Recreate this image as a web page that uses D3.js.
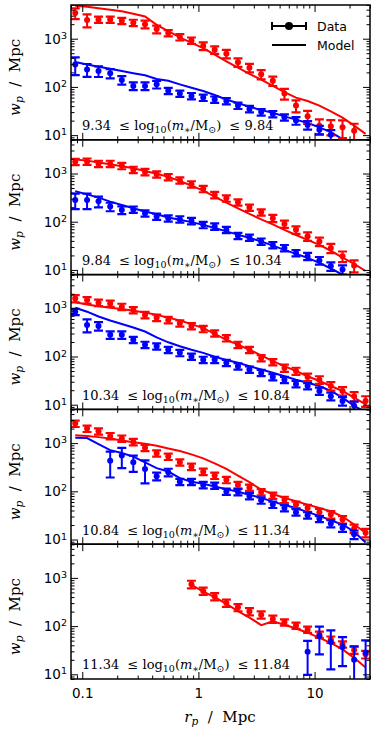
<!DOCTYPE html>
<html>
<head>
<meta charset="utf-8">
<script src="https://cdn.jsdelivr.net/npm/d3@7"></script>
<style>
  body { margin: 0; background: #fff; }
  svg { display: block; }
  .tick text { font-family: "DejaVu Sans", sans-serif; font-size: 13.5px; fill: #000; }
  .math { font-family: "DejaVu Serif", "Liberation Serif", serif; fill: #000; }
  .legend { font-family: "DejaVu Sans", sans-serif; font-size: 12.5px; fill: #000; }
</style>
</head>
<body>
<div class="chart"></div>
<script>
// projected separation bins (Mpc)
var rp = [0.087, 0.110, 0.138, 0.174, 0.219, 0.275, 0.347, 0.437, 0.550, 0.692, 0.871, 1.10, 1.38,
          1.74, 2.19, 2.75, 3.47, 4.37, 5.50, 6.92, 8.71, 11.0, 13.8, 17.4, 21.9, 27.5];

// stellar mass bins
var massLabels = [["9.34", "9.84"], ["9.84", "10.34"], ["10.34", "10.84"], ["10.84", "11.34"], ["11.34", "11.84"]];

// panel 1
var red1 = [3400, 2450, 2500, 2500, 2350, 2150, 2000, 1580, 1310, 1080, 920, 710, 590, 490, 325, 250, 183, 134, 73, 41, 24.5, 15.7, 15.2, 14.5, 12.3, null];
var redErr1 = [0.25, 0.3, 0.15, 0.15, 0.15, 0.15, 0.18, 0.18, 0.15, 0.15, 0.15, 0.18, 0.18, 0.2, 0.2, 0.2, 0.22, 0.22, 0.25, 0.28, 0.3, 0.35, 0.35, 0.4, 0.4, null];
var blue1 = [292, 230, 214, 192, 139, 105, 105, 113, 83, 73, 65, 60, 55, 51, 41, 35, 30, 27.5, 23.5, 20, 16.3, 13, 10.2, null, null, null];
var blueErr1 = [0.4, 0.3, 0.25, 0.22, 0.2, 0.18, 0.18, 0.18, 0.15, 0.15, 0.15, 0.15, 0.15, 0.15, 0.15, 0.15, 0.15, 0.15, 0.15, 0.18, 0.2, 0.2, 0.25, null, null, null];
var redModel1 = [4800, 4600, 4300, 4000, 3700, 3300, 2900, 1940, 1430, 1070, 820, 640, 470, 340, 250, 187, 141, 105, 78, 60, 51, 41, 31, 23, 15.7, 10.6];
var blueModel1 = [330, 292, 263, 237, 214, 192, 174, 146, 134, 113, 96, 82, 68, 55, 46, 39, 33, 29, 24.5, 21, 17.8, 14.5, 11.5, 8.3, 6, null];

// panel 2
var red2 = [1750, 1780, 1600, 1600, 1440, 1200, 1080, 965, 850, 725, 600, 480, 360, 305, 253, 197, 157, 118, 90, 68, 50, 39, 28.5, 19.3, 12.3, null];
var redErr2 = [0.15, 0.15, 0.15, 0.15, 0.15, 0.15, 0.15, 0.15, 0.15, 0.15, 0.15, 0.15, 0.15, 0.15, 0.15, 0.15, 0.15, 0.17, 0.17, 0.18, 0.2, 0.2, 0.22, 0.25, 0.28, null];
var blue2 = [282, 282, 265, 206, 176, 180, 150, 128, 118, 113, 104, 86, 80, 68, 51, 47, 39, 33, 28.6, 22.5, 19.3, 15.7, 12, 10.2, null, null];
var blueErr2 = [0.35, 0.35, 0.25, 0.2, 0.18, 0.15, 0.15, 0.15, 0.15, 0.15, 0.15, 0.15, 0.15, 0.15, 0.15, 0.15, 0.15, 0.15, 0.15, 0.15, 0.17, 0.18, 0.2, 0.22, null, null];
var redModel2 = [1950, 1850, 1700, 1560, 1420, 1280, 1130, 990, 850, 700, 560, 440, 330, 250, 190, 145, 112, 88, 68, 53, 42, 33, 25, 18, 13.4, 9.5];
var blueModel2 = [430, 369, 316, 261, 222, 190, 163, 143, 122, 110, 98, 86, 74, 63, 54, 46, 39, 32, 26, 21.5, 17.8, 14, 10.7, 8, 6, null];

// panel 3
var red3 = [1600, 1480, 1310, 1260, 1080, 920, 730, 640, 575, 490, 430, 375, 305, 241, 176, 138, 93, 77, 58, 50, 37.5, 33, 24.5, 19.3, 15, 12];
var redErr3 = [0.17, 0.15, 0.15, 0.15, 0.15, 0.15, 0.15, 0.15, 0.15, 0.15, 0.15, 0.15, 0.15, 0.15, 0.15, 0.15, 0.15, 0.15, 0.17, 0.17, 0.18, 0.18, 0.2, 0.2, 0.22, 0.25];
var blue3 = [850, 453, 430, 282, 282, 222, 176, 163, 138, 119, 100, 86, 86, 74, 63, 54, 46, 37.5, 33, 27, 24.5, 19.3, 15, 12, 9.5, null];
var blueErr3 = [0.15, 0.3, 0.2, 0.18, 0.18, 0.15, 0.15, 0.15, 0.15, 0.15, 0.15, 0.15, 0.15, 0.15, 0.15, 0.15, 0.15, 0.15, 0.15, 0.15, 0.15, 0.17, 0.18, 0.2, 0.22, null];
var redModel3 = [1330, 1200, 1100, 1030, 965, 890, 815, 730, 640, 557, 470, 387, 296, 222, 176, 138, 106, 80, 63, 50, 39, 31, 24.5, 19.3, 14, 10.2];
var blueModel3 = [1030, 850, 675, 557, 474, 400, 330, 249, 197, 163, 138, 119, 99, 85, 74, 63, 54, 46, 39, 33, 28.6, 24.5, 19.3, 14, 9.5, 7];

// panel 4
var red4 = [2540, 2000, 1760, 1410, 1250, 1060, 800, 615, 525, 400, 325, 256, 212, 173, 136, 120, 97, 82, 67, 53, 45, 37, 33, 26, 17, 13.8];
var redErr4 = [0.15, 0.15, 0.15, 0.15, 0.15, 0.15, 0.15, 0.15, 0.15, 0.15, 0.15, 0.15, 0.15, 0.15, 0.15, 0.15, 0.15, 0.15, 0.15, 0.15, 0.17, 0.17, 0.18, 0.18, 0.2, 0.2];
var blue4 = [null, null, null, 430, 550, 400, 292, 206, 249, 158, 158, 136, 132, 99, 97, 80, 65, 53, 45, 37, 32, 27, 21.5, 17.5, 12.8, null];
var blueErr4 = [null, null, null, 0.55, 0.45, 0.37, 0.5, 0.18, 0.18, 0.15, 0.15, 0.15, 0.15, 0.15, 0.15, 0.15, 0.15, 0.15, 0.15, 0.15, 0.15, 0.15, 0.17, 0.18, 0.2, null];
var redModel4 = [1460, 1410, 1330, 1250, 1130, 1045, 965, 880, 775, 683, 583, 483, 380, 292, 212, 155, 108, 88, 73, 62, 53, 45, 38.5, 30, 20.5, 13.8];
var blueModel4 = [1290, 1270, 950, 716, 622, 525, 400, 302, 257, 188, 158, 143, 126, 111, 98, 85, 73, 61, 52, 45, 37, 31, 25, 20.5, 14.5, 8.7];

// panel 5
var red5 = [null, null, null, null, null, null, null, null, null, null, 740, 537, 412, 302, 245, 202, 173, 141, 120, 103, 85, 67, 53, 42, 32, 26];
var redErr5 = [null, null, null, null, null, null, null, null, null, null, 0.18, 0.17, 0.17, 0.17, 0.17, 0.17, 0.17, 0.17, 0.15, 0.15, 0.15, 0.15, 0.15, 0.15, 0.17, 0.18];
var blue5 = [null, null, null, null, null, null, null, null, null, null, null, null, null, null, null, null, null, null, null, null, 29.5, 62, 47, 37, 20, 28];
var blueErr5 = [null, null, null, null, null, null, null, null, null, null, null, null, null, null, null, null, null, null, null, null, 0.67, 0.58, 0.73, 0.6, 0.9, 0.8];
var redModel5 = [null, null, null, null, null, null, null, null, null, null, 720, 520, 400, 290, 205, 150, 105, 126, 107, 89, 73, 57, 45, 33, 22, 13.8];
var blueModel5 = [null, null, null, null, null, null, null, null, null, null, null, null, null, null, null, null, null, null, null, null, null, null, null, null, null, null];

var panels = [
  {red: red1, redErr: redErr1, blue: blue1, blueErr: blueErr1, redModel: redModel1, blueModel: blueModel1},
  {red: red2, redErr: redErr2, blue: blue2, blueErr: blueErr2, redModel: redModel2, blueModel: blueModel2},
  {red: red3, redErr: redErr3, blue: blue3, blueErr: blueErr3, redModel: redModel3, blueModel: blueModel3},
  {red: red4, redErr: redErr4, blue: blue4, blueErr: blueErr4, redModel: redModel4, blueModel: blueModel4},
  {red: red5, redErr: redErr5, blue: blue5, blueErr: blueErr5, redModel: redModel5, blueModel: blueModel5}
];

var svgWidth = 374;
var svgHeight = 747;
var margin = {top: 5, left: 71, right: 4};
var width = svgWidth - margin.left - margin.right;
var panelHeight = 134.8;

var svg = d3.select(".chart").append("svg")
  .attr("width", svgWidth)
  .attr("height", svgHeight);

var x = d3.scaleLog().domain([0.08, 30]).range([0, width]);
var y = d3.scaleLog().domain([8, 5000]).range([panelHeight, 0]);

function isMajor(d) {
  var l = Math.log10(d);
  return Math.abs(l - Math.round(l)) < 1e-6;
}
var xMajor = x.ticks().filter(isMajor);
var xMinor = x.ticks().filter(d => !isMajor(d));
var yMajor = y.ticks().filter(isMajor);
var yMinor = y.ticks().filter(d => !isMajor(d));

var colors = {red: "#ff0000", blue: "#0000ff"};

// clip path shared by all panels
svg.append("defs").append("clipPath").attr("id", "clip")
  .append("rect").attr("width", width).attr("height", panelHeight);

function tickGroup(g, axis) {
  var a = g.append("g").call(axis);
  a.select(".domain").remove();
  a.selectAll("line").attr("stroke", "#000").attr("stroke-width", 1);
  return a;
}

panels.forEach(function (p, pi) {
  var g = svg.append("g")
    .attr("transform", `translate(${margin.left}, ${margin.top + pi * panelHeight})`);

  var plot = g.append("g").attr("clip-path", "url(#clip)");

  // model curves
  ["red", "blue"].forEach(function (c) {
    var pts = rp.map((r, i) => [r, p[c + "Model"][i]]);
    plot.append("path")
      .datum(pts)
      .attr("fill", "none")
      .attr("stroke", colors[c])
      .attr("stroke-width", 2)
      .attr("d", d3.line()
        .defined(d => d[1] != null)
        .x(d => x(d[0]))
        .y(d => y(d[1])));
  });

  // data with error bars
  ["red", "blue"].forEach(function (c) {
    var pts = rp.map((r, i) => ({r: r, v: p[c][i], e: p[c + "Err"][i]}))
      .filter(d => d.v != null);
    var bars = plot.append("g").selectAll("g").data(pts).enter().append("g")
      .attr("stroke", colors[c]).attr("fill", colors[c]);
    function lo(d) { var v = d.v * (1 - d.e); return v > 0.5 ? y(v) : panelHeight + 20; }
    function hi(d) { return y(d.v * (1 + d.e)); }
    bars.append("line")
      .attr("x1", d => x(d.r)).attr("x2", d => x(d.r))
      .attr("y1", lo).attr("y2", hi)
      .attr("stroke-width", 2);
    bars.append("line")
      .attr("x1", d => x(d.r) - 4.5).attr("x2", d => x(d.r) + 4.5)
      .attr("y1", lo).attr("y2", lo)
      .attr("stroke-width", 2.2);
    bars.append("line")
      .attr("x1", d => x(d.r) - 4.5).attr("x2", d => x(d.r) + 4.5)
      .attr("y1", hi).attr("y2", hi)
      .attr("stroke-width", 2.2);
    bars.append("circle")
      .attr("cx", d => x(d.r)).attr("cy", d => y(d.v))
      .attr("r", 3).attr("stroke", "none");
  });

  // ticks on all four sides, pointing inwards
  var left = tickGroup(g, d3.axisLeft(y).tickValues(yMajor).tickSize(-7).tickPadding(4).tickFormat(""));
  left.selectAll("text").each(function (d) {
    var t = d3.select(this);
    t.append("tspan").text("10");
    t.append("tspan").attr("dy", "-0.5em").attr("font-size", "9.5px").text(Math.round(Math.log10(d)));
  });
  tickGroup(g, d3.axisLeft(y).tickValues(yMinor).tickSize(-3.5).tickFormat(""));
  var right = g.append("g").attr("transform", `translate(${width}, 0)`);
  tickGroup(right, d3.axisRight(y).tickValues(yMajor).tickSize(-7).tickFormat(""));
  tickGroup(right, d3.axisRight(y).tickValues(yMinor).tickSize(-3.5).tickFormat(""));
  tickGroup(g, d3.axisTop(x).tickValues(xMajor).tickSize(-7).tickFormat(""));
  tickGroup(g, d3.axisTop(x).tickValues(xMinor).tickSize(-3.5).tickFormat(""));
  var bottom = g.append("g").attr("transform", `translate(0, ${panelHeight})`);
  var last = pi === panels.length - 1;
  tickGroup(bottom, d3.axisBottom(x).tickValues(xMajor).tickSize(-7).tickPadding(9)
    .tickFormat(last ? (d => d < 1 ? d3.format(".1f")(d) : d3.format("d")(d)) : ""));
  tickGroup(bottom, d3.axisBottom(x).tickValues(xMinor).tickSize(-3.5).tickFormat(""));

  // frame
  g.append("rect")
    .attr("width", width).attr("height", panelHeight)
    .attr("fill", "none").attr("stroke", "#000").attr("stroke-width", 1.5);

  // mass bin annotation
  var ann = g.append("text").attr("class", "math")
    .attr("x", 11).attr("y", panelHeight - 9.5)
    .attr("font-size", "13px")
    .style("white-space", "pre");
  ann.append("tspan").text(massLabels[pi][0] + "  \u2264 log");
  ann.append("tspan").attr("dy", 3).attr("font-size", "9.5px").text("10");
  ann.append("tspan").attr("dy", -3).text("(");
  ann.append("tspan").attr("font-style", "italic").text("m");
  ann.append("tspan").attr("dy", 3).attr("font-size", "9.5px").text("\u2217");
  ann.append("tspan").attr("dy", -3).text("/M");
  ann.append("tspan").attr("dy", 3).attr("font-size", "9.5px").text("\u2299");
  ann.append("tspan").attr("dy", -3).text(")  \u2264 " + massLabels[pi][1]);

  // y label
  var yl = svg.append("text").attr("class", "math")
    .attr("transform", `translate(20, ${margin.top + pi * panelHeight + panelHeight / 2 + 5}) rotate(-90)`)
    .attr("text-anchor", "middle")
    .attr("font-size", "15px")
    .style("white-space", "pre");
  yl.append("tspan").attr("font-style", "italic").text("w");
  yl.append("tspan").attr("dy", 3).attr("font-size", "10.5px").attr("font-style", "italic").text("p");
  yl.append("tspan").attr("dy", -3).text("  /  Mpc");
});

// legend (first panel)
var leg = svg.append("g").attr("transform", `translate(${margin.left}, ${margin.top})`);
leg.append("line").attr("x1", 201).attr("x2", 235).attr("y1", 21).attr("y2", 21)
  .attr("stroke", "#000").attr("stroke-width", 2);
leg.append("line").attr("x1", 201).attr("x2", 201).attr("y1", 17).attr("y2", 25)
  .attr("stroke", "#000").attr("stroke-width", 2);
leg.append("line").attr("x1", 235).attr("x2", 235).attr("y1", 17).attr("y2", 25)
  .attr("stroke", "#000").attr("stroke-width", 2);
leg.append("circle").attr("cx", 218).attr("cy", 21).attr("r", 4).attr("fill", "#000");
leg.append("text").attr("class", "legend").attr("x", 246).attr("y", 25.5).text("Data");
leg.append("line").attr("x1", 201).attr("x2", 235).attr("y1", 40).attr("y2", 40)
  .attr("stroke", "#000").attr("stroke-width", 2);
leg.append("text").attr("class", "legend").attr("x", 246).attr("y", 44.5).text("Model");

// x label
var xl = svg.append("text").attr("class", "math")
  .attr("x", 220).attr("y", 722)
  .attr("text-anchor", "middle")
  .attr("font-size", "15px")
  .style("white-space", "pre");
xl.append("tspan").attr("font-style", "italic").text("r");
xl.append("tspan").attr("dy", 3).attr("font-size", "10.5px").attr("font-style", "italic").text("p");
xl.append("tspan").attr("dy", -3).text("  /  Mpc");
</script>
</body>
</html>
